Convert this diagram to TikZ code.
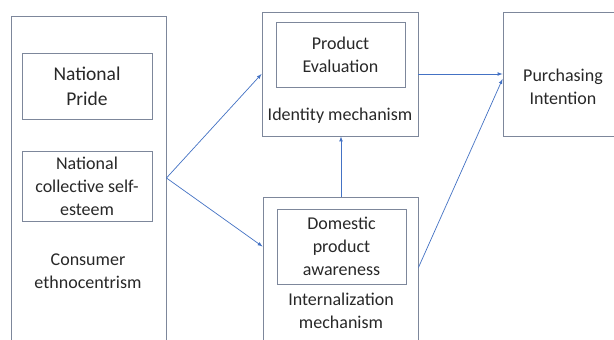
\documentclass[tikz,border=0pt]{standalone}
\usepackage{fontspec}
\setmainfont{Carlito}
\definecolor{boxgray}{RGB}{125,135,155}
\definecolor{arrowblue}{RGB}{68,114,196}
\definecolor{textgray}{RGB}{40,40,40}

\begin{document}
\begin{tikzpicture}[x=1pt,y=1pt,>=latex,
  box/.style={draw=boxgray, line width=0.9pt, inner sep=0pt},
  inner/.style={draw=boxgray, line width=0.9pt, align=center, inner sep=0pt},
  caption/.style={align=center, inner sep=0pt},
  arrow/.style={->, draw=arrowblue, line width=0.7pt},
  font=\fontsize{18}{23}\selectfont, text=textgray]
\clip (0,0) rectangle (614,340);
\fill[white] (0,0) rectangle (614,340);

%Konsument links
\node[box, minimum width=155pt, minimum height=334pt] (ce) at (88.5,157) {};
\node[inner, minimum width=130pt, minimum height=66pt, font=\fontsize{19.5}{25}\selectfont] (np) at (87,254) {National\\Pride};
\node[inner, minimum width=130pt, minimum height=70pt] (ncse) at (87,154) {National\\collective self-\\esteem};
\node[caption] (celabel) at (88,69) {Consumer\\ethnocentrism};

%Mechanismen in der Mitte
\node[box, minimum width=156pt, minimum height=124pt] (id) at (340,266) {};
\node[inner, minimum width=129pt, minimum height=65pt] (pe) at (340.5,285.5) {Product\\Evaluation};
\node[caption] (idlabel) at (340,224) {Identity mechanism};

\node[box, minimum width=155pt, minimum height=153pt] (im) at (340.5,66.5) {};
\node[inner, minimum width=129pt, minimum height=75pt] (dpa) at (341.5,93.5) {Domestic\\product\\awareness};
\node[caption] (imlabel) at (341,29) {Internalization\\mechanism};

%Kaufabsicht rechts
\node[box, minimum width=117pt, minimum height=124pt] (pi) at (561.5,266) {};
\node[caption] (pilabel) at (563,253) {Purchasing\\Intention};

%Pfeile
\coordinate (split) at (ce.east |- 0,162);
\draw[arrow] (split) to (id.west);
\draw[arrow] (split) to (im.west |- dpa);
\draw[arrow] (im.north -| 341,0) to (id.south -| 341,0);
\draw[arrow] (id.east) to (pi.west |- id.east);
\draw[arrow] ([yshift=6pt]im.east) to ([yshift=-5pt]pi.west);

\end{tikzpicture}
\end{document}
